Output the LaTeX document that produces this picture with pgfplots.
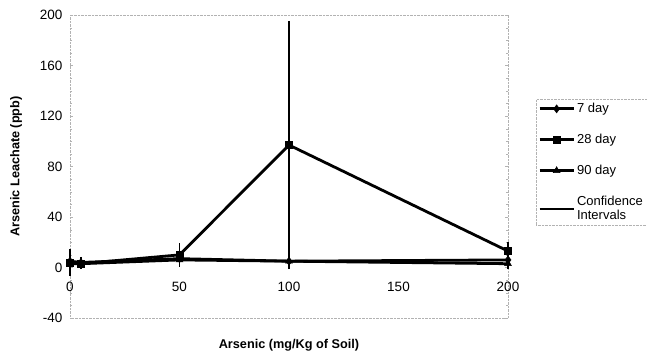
\documentclass[border=0pt]{standalone}
\usepackage{pgfplots}
\pgfplotsset{compat=1.18}
\usepackage{pgfplotstable}
\usepackage{fontspec}
\setmainfont{Liberation Sans}
\pgfplotstableread{
x y7 e7 y28 e28 y90 e90
0 5 6 4 8 3 3
5 4 2 3 2 3 1
50 7 2 10 7 6 2
100 5 1 97 96 5 1
200 6 3 13 5 3 2
}\data
\begin{document}
\begin{tikzpicture}
\useasboundingbox (0,0) rectangle (647pt,355pt);
\begin{axis}[
  at={(70pt,37pt)}, anchor=south west,
  scale only axis, width=438pt, height=303pt,
  xmin=0, xmax=200, ymin=-40, ymax=200,
  xtick={0,50,100,150,200},
  ytick={-40,0,40,80,120,160,200},
  minor y tick num=3,
  axis line style={gray!60, densely dotted},
  major tick length=3pt, minor tick length=2pt,
  ytick style={gray!60},
  xtick style={draw=none},
  /pgf/number format/assume math mode=true,
  tick label style={font=\fontsize{13.5}{15}\selectfont},
  xticklabel style={yshift=39pt},
  yticklabel style={xshift=-4pt},
  xlabel={Arsenic (mg/Kg of Soil)},
  ylabel={Arsenic Leachate (ppb)},
  label style={font=\bfseries\fontsize{12.7}{14}\selectfont},
  x label style={at={(axis description cs:0.5,-0.089)}, anchor=center},
  y label style={at={(axis description cs:-0.123,0.5)}, anchor=center},
  clip=false,
  legend style={at={(1.064,0.722)}, anchor=north west, draw=gray!60, densely dotted,
    font=\fontsize{13}{14}\selectfont, row sep=16pt, inner xsep=2pt, inner ysep=2pt,
    cells={anchor=west, align=left}},
  legend image code/.code={\draw[mark repeat=2,mark phase=2,solid] plot coordinates {(0pt,0pt) (17pt,0pt) (34pt,0pt)};},
]
\addplot[black, line width=2.8pt, mark=diamond*, mark size=4pt, mark options={solid, fill=black, line width=0.5pt},
  error bars/.cd, y dir=both, y explicit, error bar style={line width=1.2pt}, error mark options={line width=1.2pt, mark size=3pt}]
  table[x=x, y=y7, y error=e7] {\data};
\addlegendentry{7 day}
\addplot[black, line width=2.8pt, mark=square*, mark size=3.5pt, mark options={solid, fill=black, line width=0.5pt},
  error bars/.cd, y dir=both, y explicit, error bar style={line width=1.2pt}, error mark options={line width=1.2pt, mark size=3pt}]
  table[x=x, y=y28, y error=e28] {\data};
\addlegendentry{28 day}
\addplot[black, line width=2.8pt, mark=triangle*, mark size=4pt, mark options={solid, fill=black, line width=0.5pt},
  error bars/.cd, y dir=both, y explicit, error bar style={line width=1.2pt}, error mark options={line width=1.2pt, mark size=3pt}]
  table[x=x, y=y90, y error=e90] {\data};
\addlegendentry{90 day}
\addlegendimage{black, line width=2pt, solid}
\addlegendentry{Confidence\\Intervals}
\end{axis}
\end{tikzpicture}
\end{document}
